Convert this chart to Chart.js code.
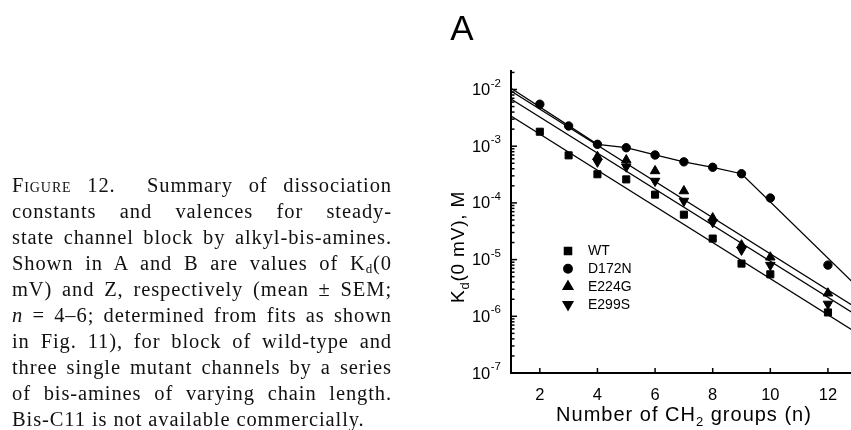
<!DOCTYPE html>
<html>
<head>
<meta charset="utf-8">
<script src="https://cdn.jsdelivr.net/npm/chart.js@4.4.0/dist/chart.umd.min.js"></script>
<style>
    html, body { margin: 0; padding: 0; background: #fff; }
    #wrap { position: relative; width: 851px; height: 430px; overflow: hidden; }
    #chartBox { position: absolute; left: 0; top: 0; width: 851px; height: 430px; }
    .caption {
        position: absolute; left: 12px; top: 172px; width: 380px;
        font-family: "Liberation Serif", serif; font-size: 20.5px; line-height: 26px;
        letter-spacing: 0.9px; color: #111;
    }
    .caption div { text-align: justify; text-align-last: justify; }
    .caption div.last { text-align-last: left; }
    .sc { font-variant: small-caps; }
    .caption sub { font-size: 13px; vertical-align: -3px; line-height: 0; }
    .sans { position: absolute; font-family: "Liberation Sans", Arial, sans-serif; color: #000; white-space: nowrap; line-height: 1; }
    .sans sub { font-size: 13px; vertical-align: -5px; line-height: 0; }
    #panel { left: 462px; top: 27px; font-size: 35px; transform: translate(-50%, -50%); }
    #xTitle { left: 684px; top: 414px; font-size: 20px; letter-spacing: 1px; transform: translate(-50%, -50%); }
    #yTitle { left: 457px; top: 247px; font-size: 19px; letter-spacing: 0.8px; transform: translate(-50%, -50%) rotate(-90deg); }
</style>
</head>
<body>
<div id="wrap">
    <div id="chartBox"><canvas id="kdChart"></canvas></div>

    <div class="caption">
        <div><span class="sc">Figure</span> 12.&nbsp; Summary of dissociation</div>
        <div>constants and valences for steady-</div>
        <div>state channel block by alkyl-bis-amines.</div>
        <div>Shown in A and B are values of K<sub>d</sub>(0</div>
        <div>mV) and Z, respectively (mean ± SEM;</div>
        <div><i>n</i> = 4–6; determined from fits as shown</div>
        <div>in Fig. 11), for block of wild-type and</div>
        <div>three single mutant channels by a series</div>
        <div>of bis-amines of varying chain length.</div>
        <div class="last">Bis-C11 is not available commercially.</div>
    </div>

    <div id="panel" class="sans">A</div>
    <div id="xTitle" class="sans">Number of CH<sub>2</sub> groups (n)</div>
    <div id="yTitle" class="sans">K<sub>d</sub>(0 mV), M</div>
</div>

<script>
// data (Kd in M vs number of CH2 groups)

const nAll = [2, 3, 4, 5, 6, 7, 8, 9, 10, 12];
const wtKd = [1.8e-3, 6.9e-4, 3.2e-4, 2.6e-4, 1.4e-4, 6.2e-5, 2.35e-5, 8.5e-6, 5.5e-6, 1.17e-6];
const d172nKd = [5.5e-3, 2.27e-3, 1.08e-3, 9.4e-4, 7.0e-4, 5.3e-4, 4.25e-4, 3.27e-4, 1.22e-4, 8.0e-6];

const nMutants = [4, 5, 6, 7, 8, 9, 10, 12];
const e224gKd = [6.5e-4, 5.7e-4, 3.66e-4, 1.62e-4, 5.4e-5, 1.8e-5, 1.1e-5, 2.55e-6];
const e299sKd = [5.3e-4, 4.35e-4, 2.43e-4, 1.08e-4, 4.55e-5, 1.48e-5, 8.0e-6, 1.65e-6];

// fitted lines (end points)
const fitX = [1, 13];
const wtFit = [3.4e-3, 5.1e-7];
const e224gFit = [9.4e-3, 1.4e-6];
const e299sFit = [6.8e-3, 1.04e-6];

const d172nLineX = [1, 4, 5, 6, 7, 8, 9, 13];
const d172nLineKd = [1.05e-2, 1.08e-3, 9.4e-4, 7.0e-4, 5.3e-4, 4.25e-4, 3.27e-4, 3.4e-6];

// axes
const xTickValues = [2, 4, 6, 8, 10, 12];
const yDecades = [-7, -6, -5, -4, -3, -2];
const yMinorSteps = [2, 3, 4, 5, 6, 7, 8, 9];

const xMin = 1;
const xMax = 12.8;
const yMin = 1e-7;
const yMax = 0.0212;


const toPoints = (xs, ys) => xs.map((x, i) => ({ x: x, y: ys[i] }));

const markerSet = (label, xs, ys, style, radius, rotation) => ({
    label: label,
    data: toPoints(xs, ys),
    showLine: false,
    pointStyle: style,
    pointRadius: radius,
    pointHoverRadius: radius,
    pointRotation: rotation,
    backgroundColor: '#000',
    borderColor: '#000',
    borderWidth: 1,
    inLegend: true,
});

const lineSet = (xs, ys) => ({
    data: toPoints(xs, ys),
    showLine: true,
    borderColor: '#000',
    borderWidth: 1.3,
    pointRadius: 0,
    pointHoverRadius: 0,
    fill: false,
    tension: 0,
});

const sans = '"Liberation Sans", Arial, sans-serif';

// ticks inside the axes, 10^n labels and the inner legend
const axisDecor = {
    id: 'axisDecor',
    afterDraw(chart) {
        const { ctx, chartArea } = chart;
        const xs = chart.scales.x;
        const ys = chart.scales.y;

        ctx.save();
        ctx.strokeStyle = '#000';
        ctx.fillStyle = '#000';
        ctx.lineWidth = 1.5;

        ys.ticks.forEach(t => {
            const py = ys.getPixelForValue(t.value);
            const len = t.major ? 6 : 3.5;
            ctx.beginPath();
            ctx.moveTo(chartArea.left, py);
            ctx.lineTo(chartArea.left + len, py);
            ctx.stroke();

            if (t.major) {
                const right = 501;
                ctx.textAlign = 'right';
                ctx.textBaseline = 'middle';
                ctx.font = '11.5px ' + sans;
                const ew = ctx.measureText(t.exp).width;
                ctx.fillText(t.exp, right, py - 6);
                ctx.font = '16.5px ' + sans;
                ctx.fillText('10', right - ew - 0.5, py + 1);
            }
        });

        xs.ticks.forEach(t => {
            const px = xs.getPixelForValue(t.value);
            ctx.beginPath();
            ctx.moveTo(px, chartArea.bottom);
            ctx.lineTo(px, chartArea.bottom - 5);
            ctx.stroke();
        });

        // legend
        const items = chart.data.datasets.filter(d => d.inLegend);
        ctx.font = '14px ' + sans;
        ctx.textAlign = 'left';
        ctx.textBaseline = 'middle';
        items.forEach((d, i) => {
            const ly = 251 + i * 17.8;
            Chart.helpers.drawPoint(ctx, {
                pointStyle: d.pointStyle,
                radius: d.pointRadius,
                rotation: d.pointRotation,
                borderWidth: 1,
            }, 568, ly);
            ctx.fillStyle = '#000';
            ctx.fillText(d.label, 588, ly + 0.5);
        });

        ctx.restore();
    }
};


const kdChart = new Chart(document.getElementById('kdChart'), {
    type: 'scatter',
    data: {
        datasets: [
            markerSet('WT', nAll, wtKd, 'rect', 5, 0),
            markerSet('D172N', nAll, d172nKd, 'circle', 4.2, 0),
            markerSet('E224G', nMutants, e224gKd, 'triangle', 5.5, 0),
            markerSet('E299S', nMutants, e299sKd, 'triangle', 5.5, 180),
            lineSet(fitX, wtFit),
            lineSet(fitX, e224gFit),
            lineSet(fitX, e299sFit),
            lineSet(d172nLineX, d172nLineKd),
        ],
    },
    options: {
        responsive: true,
        maintainAspectRatio: false,
        animation: false,
        layout: {
            autoPadding: false,
            padding: { top: 71, right: 0, left: 0, bottom: 0 },
        },
        plugins: {
            legend: { display: false },
            tooltip: { enabled: false },
        },
        scales: {
            x: {
                type: 'linear',
                min: xMin,
                max: xMax,
                grid: { display: false },
                border: { display: true, color: '#000', width: 2 },
                afterBuildTicks: scale => {
                    scale.ticks = xTickValues.map(v => ({ value: v }));
                },
                afterFit: scale => {
                    scale.height = 57;
                    scale.paddingLeft = 0;
                    scale.paddingRight = 0;
                },
                ticks: {
                    color: '#000',
                    padding: 5,
                    font: { family: sans, size: 16.5 },
                },
            },
            y: {
                type: 'logarithmic',
                min: yMin,
                max: yMax,
                grid: { display: false },
                border: { display: true, color: '#000', width: 2 },
                afterBuildTicks: scale => {
                    const ticks = [];
                    yDecades.forEach(e => {
                        ticks.push({ value: Math.pow(10, e), major: true, exp: String(e) });
                        yMinorSteps.forEach(m => {
                            const v = m * Math.pow(10, e);
                            if (v <= yMax) ticks.push({ value: v, major: false });
                        });
                    });
                    scale.ticks = ticks;
                },
                afterFit: scale => {
                    scale.width = 511;
                    scale.paddingTop = 0;
                    scale.paddingBottom = 0;
                },
                ticks: { display: false },
            },
        },
    },
    plugins: [axisDecor],
});
</script>
</body>
</html>
